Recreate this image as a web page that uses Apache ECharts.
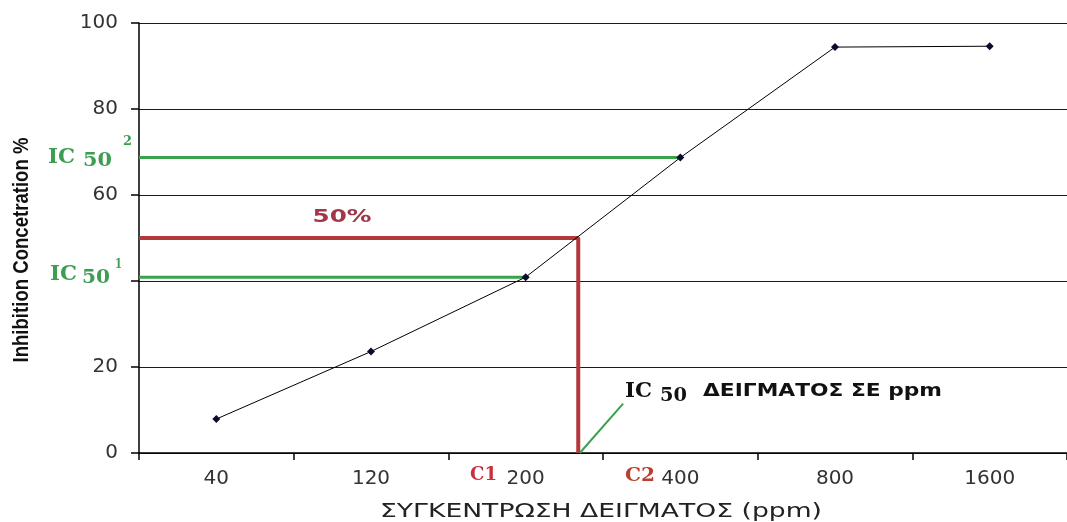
<!DOCTYPE html>
<html><head><meta charset="utf-8">
<script src="https://cdn.jsdelivr.net/npm/echarts@6/dist/echarts.min.js"></script>
<style>html,body{margin:0;padding:0;background:#fff}#c{width:1067px;height:522px}</style>
</head><body><div id="c"></div>
<script>
// ---- data ----
const categories = ['40', '120', '200', '400', '800', '1600'];
const inhibition = [7.9, 23.6, 40.9, 68.7, 94.4, 94.6];
const yTicks = [0, 20, 40, 60, 80, 100];
const hiddenYLabels = [40];
const ic50Level = 50;          // 50 % inhibition level
const ic50Index = 2.34;        // category position where the curve crosses 50 % (between 200 and 400)
const ic50LowIdx = 2;          // C1 -> 200 ppm
const ic50HighIdx = 3;         // C2 -> 400 ppm
const pointerEnd = [2.63, 11.5];

const RED = '#b2383a', GREEN = '#3aa24c', GREEN_TXT = '#3d9d50';

const ctx = document.createElement('canvas').getContext('2d');
function t(text, font, fill, x, y, targetW, align, extra) {
  ctx.font = font;
  const w = ctx.measureText(text).width;
  const el = {
    type: 'text', x: x, y: y, scaleX: targetW / w, z: 100,
    style: { text: text, font: font, fill: fill,
      align: align || 'left', textAlign: align || 'left',
      verticalAlign: 'middle', textVerticalAlign: 'middle' }
  };
  return Object.assign(el, extra || {});
}

const chart = echarts.init(document.getElementById('c'), null, { renderer: 'canvas' });

const serifB = (s) => 'bold ' + s + 'px "DejaVu Serif"';
const graphics = [
  t('50%', 'bold 18px "DejaVu Sans"', '#a0384a', 342, 217, 59, 'center'),
  // IC50^2
  t('IC', serifB(21), GREEN_TXT, 48, 157.5, 27),
  t('50', serifB(19), GREEN_TXT, 83, 161.5, 29),
  t('2', serifB(13), GREEN_TXT, 123, 142, 9),
  // IC50^1
  t('IC', serifB(21), GREEN_TXT, 50, 274.5, 27),
  t('50', serifB(19), GREEN_TXT, 82, 278.5, 28),
  t('1', serifB(13), GREEN_TXT, 115, 265, 7),
  // C1 / C2
  t('C1', serifB(19), '#c8303c', 470, 475, 27),
  t('C2', serifB(19), '#b8402e', 625, 476, 30),
  // IC50 annotation
  t('IC', serifB(21), '#111', 625, 392, 27),
  t('50', serifB(19), '#111', 660, 396, 27),
  t('ΔΕΙΓΜΑΤΟΣ ΣΕ ppm', 'bold 17px "DejaVu Sans"', '#111', 703, 392, 239),
  // axis titles
  t('ΣΥΓΚΕΝΤΡΩΣΗ ΔΕΙΓΜΑΤΟΣ (ppm)', '19px "DejaVu Sans"', '#222', 601, 512, 442, 'center'),
  t('Inhibition Concetration %', 'bold 18px "Liberation Sans"', '#111', 22, 250, 225, 'center',
    { rotation: Math.PI / 2, scaleY: 1.25 })
];

const option = {
  animation: false,
  backgroundColor: '#fff',
  grid: { left: 139, right: -5, top: 23, bottom: 69, containLabel: false },
  xAxis: [
    {
      type: 'category', data: categories, boundaryGap: true,
      axisLine: { show: true, onZero: false, lineStyle: { color: '#000', width: 1.5 } },
      axisTick: { show: true, length: 7, lineStyle: { color: '#000', width: 1.5 } },
      axisLabel: { margin: 16, color: '#333', fontSize: 20, fontFamily: '"DejaVu Sans"' },
      splitLine: { show: false }
    },
    { type: 'value', min: -0.5, max: 5.5, show: false }
  ],
  yAxis: {
    type: 'value', min: yTicks[0], max: yTicks[yTicks.length - 1], interval: 20,
    axisLine: { show: true, onZero: false, lineStyle: { color: '#000', width: 1.5 } },
    axisTick: { show: true, length: 8, lineStyle: { color: '#000', width: 1.5 } },
    axisLabel: { margin: 21, color: '#333', fontSize: 20, fontFamily: '"DejaVu Sans"',
      formatter: (v) => hiddenYLabels.indexOf(v) >= 0 ? '' : String(v) },
    splitLine: { show: true, lineStyle: { color: '#1a1a1a', width: 1.2 } }
  },
  series: [
    { type: 'line', xAxisIndex: 1, z: 2, symbol: 'none', silent: true,
      lineStyle: { color: RED, width: 4 },
      data: [[-0.5, ic50Level], [ic50Index, ic50Level], [ic50Index, 0]] },
    { type: 'line', xAxisIndex: 1, z: 3, symbol: 'none', silent: true,
      lineStyle: { color: GREEN, width: 3 },
      data: [[-0.5, inhibition[ic50LowIdx]], [ic50LowIdx, inhibition[ic50LowIdx]]] },
    { type: 'line', xAxisIndex: 1, z: 3, symbol: 'none', silent: true,
      lineStyle: { color: GREEN, width: 3 },
      data: [[-0.5, inhibition[ic50HighIdx]], [ic50HighIdx, inhibition[ic50HighIdx]]] },
    { type: 'line', xAxisIndex: 1, z: 3, symbol: 'none', silent: true,
      lineStyle: { color: GREEN, width: 2 },
      data: [[ic50Index + 0.01, 0], pointerEnd] },
    { type: 'line', xAxisIndex: 0, z: 5, data: inhibition,
      symbol: 'diamond', symbolSize: 8, showSymbol: true,
      lineStyle: { color: '#000', width: 1 },
      itemStyle: { color: '#0b0b2e', borderWidth: 0 } }
  ],
  graphic: graphics
};
chart.setOption(option);
</script>
</body></html>
